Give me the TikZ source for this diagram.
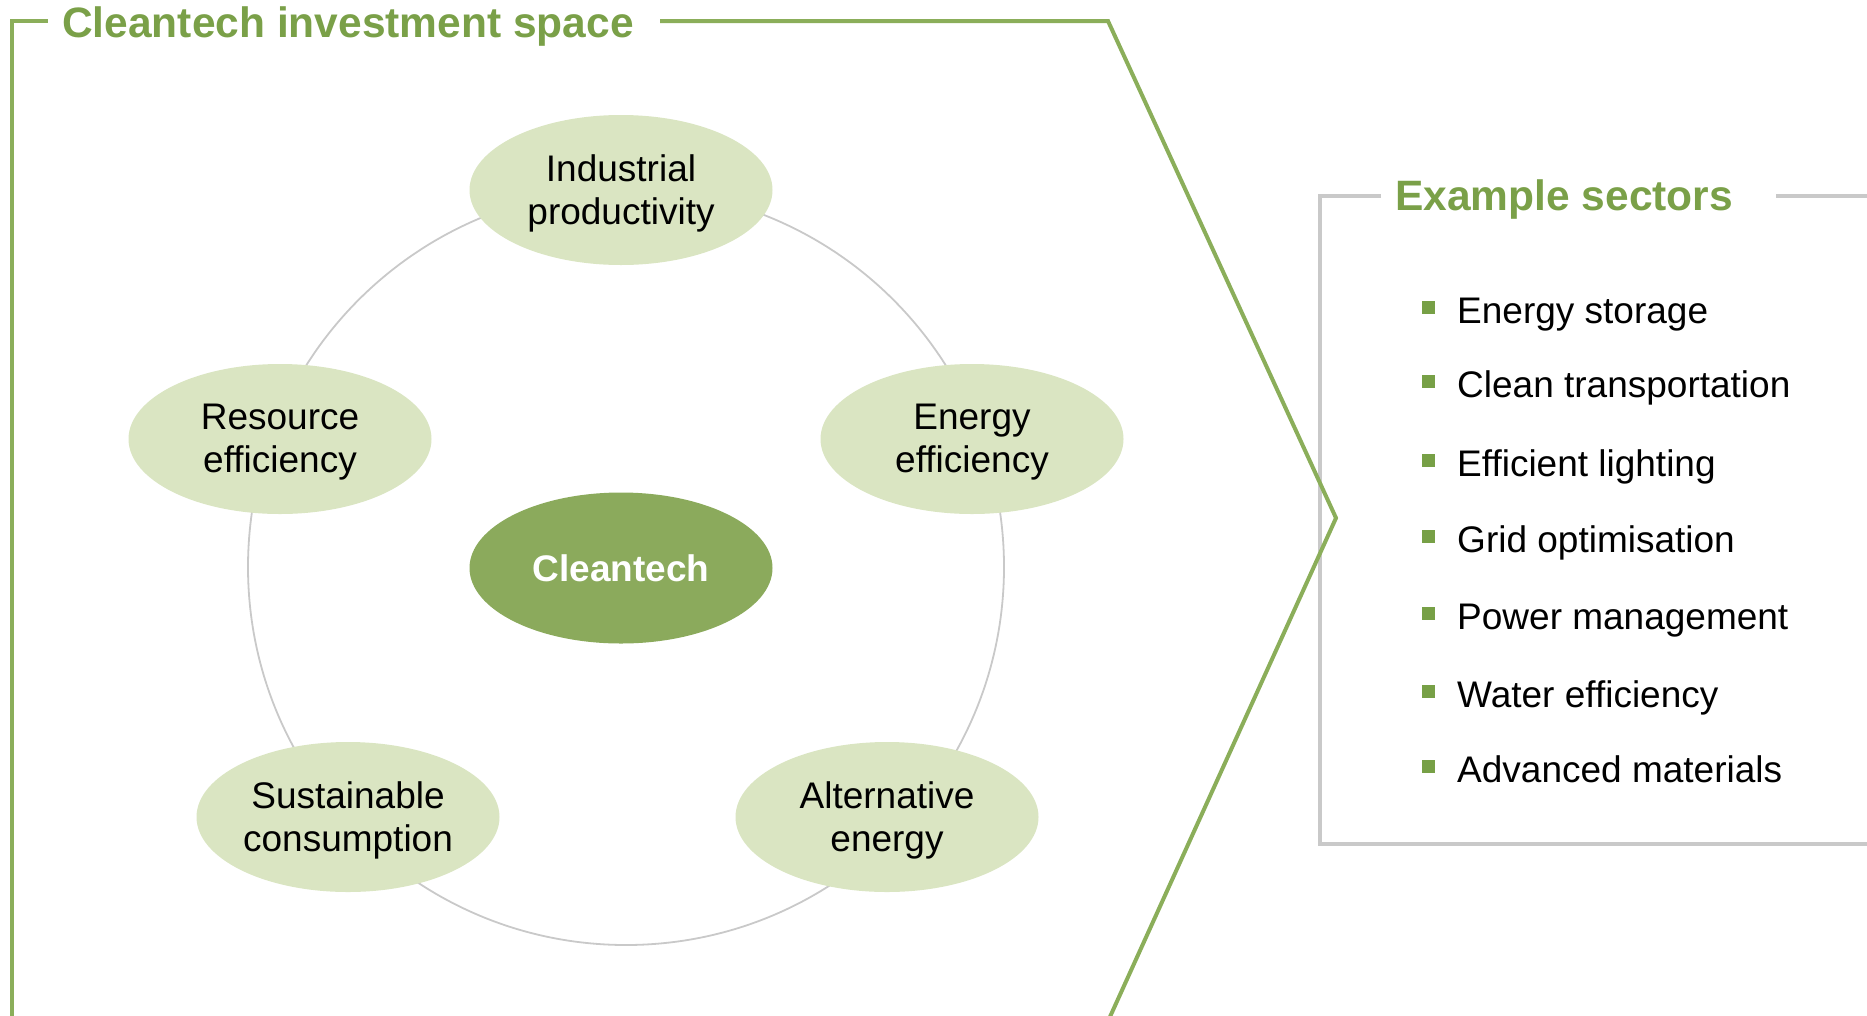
\documentclass[tikz,border=0pt]{standalone}
\usepackage{fontspec}
\setmainfont{Liberation Sans}
\usetikzlibrary{shapes.geometric}
\definecolor{framegreen}{HTML}{8BAE5A}
\definecolor{titlegreen}{HTML}{7AA048}
\definecolor{darkell}{HTML}{8BAA5C}
\definecolor{lightell}{HTML}{DAE5C2}
\definecolor{boxgray}{HTML}{C9C9C9}
\definecolor{bulletgreen}{HTML}{77A046}
\tikzset{
  x=1pt, y=-1pt,
  frameline/.style={draw=framegreen, line width=4pt},
  grayline/.style={draw=boxgray, line width=3.5pt},
  ring/.style={draw=boxgray, line width=1.8pt},
  sector/.style={ellipse, fill=lightell, minimum width=303pt, minimum height=150pt, inner sep=0pt},
  seclabel/.style={inner sep=0pt, align=center, font=\fontsize{37}{43}\selectfont, text=black},
  hubell/.style={ellipse, fill=darkell, minimum width=303pt, minimum height=151pt, inner sep=0pt,
    font=\fontsize{37}{41}\selectfont\bfseries, text=white},
  heading/.style={anchor=base west, inner sep=0pt, text=titlegreen, font=\fontsize{42.5}{47}\selectfont\bfseries},
  item/.style={anchor=base west, inner sep=0pt, font=\fontsize{37}{41}\selectfont, text=black},
  bulletsq/.style={fill=bulletgreen, minimum size=13pt, inner sep=0pt},
}
\begin{document}
\begin{tikzpicture}
\useasboundingbox (0,0) rectangle (1867,1015);
\clip (0,0) rectangle (1867,1015);
% gray box
\draw[grayline] (1381,196) -- (1320,196) -- (1320,844) -- (1880,844);
\draw[grayline] (1776,196) -- (1880,196);
\node[heading] (extitle) at (1395,210) {Example sectors};
% green frame
\draw[frameline] (12,1030) -- (12,21) -- (48,21);
\draw[frameline, line join=miter] (660,21) -- (1108,21) -- (1336,518) -- (1104,1030);
\node[heading] (title) at (62,37) {Cleantech investment space};
% ring
\coordinate (hub) at (626,567);
\draw[ring] (hub) circle[radius=378pt];
% ellipses
\node[sector] (ind) at (621,190) {};
\node[sector] (res) at (280,439) {};
\node[sector] (ene) at (972,439) {};
\node[sector] (sus) at (348,817) {};
\node[sector] (alt) at (887,817) {};
\node[seclabel] (indt) at ([yshift=-3.5pt]ind.center) {Industrial\\productivity};
\node[seclabel] (rest) at ([yshift=-3.5pt]res.center) {Resource\\efficiency};
\node[seclabel] (enet) at ([yshift=-3.5pt]ene.center) {Energy\\efficiency};
\node[seclabel] (sust) at ([yshift=-3.5pt]sus.center) {Sustainable\\consumption};
\node[seclabel] (altt) at ([yshift=-3.5pt]alt.center) {Alternative\\energy};
\node[hubell] (clean) at (621,568) {Cleantech};
% bullet list
\foreach \t/\yb [count=\i] in {Energy storage/323, Clean transportation/397, Efficient lighting/476, Grid optimisation/552, Power management/629, Water efficiency/707, Advanced materials/782}{
  \node[bulletsq] (b\i) at (1428,\yb-15.5) {};
  \node[item] (t\i) at (1457,\yb) {\t};
}
\end{tikzpicture}
\end{document}
